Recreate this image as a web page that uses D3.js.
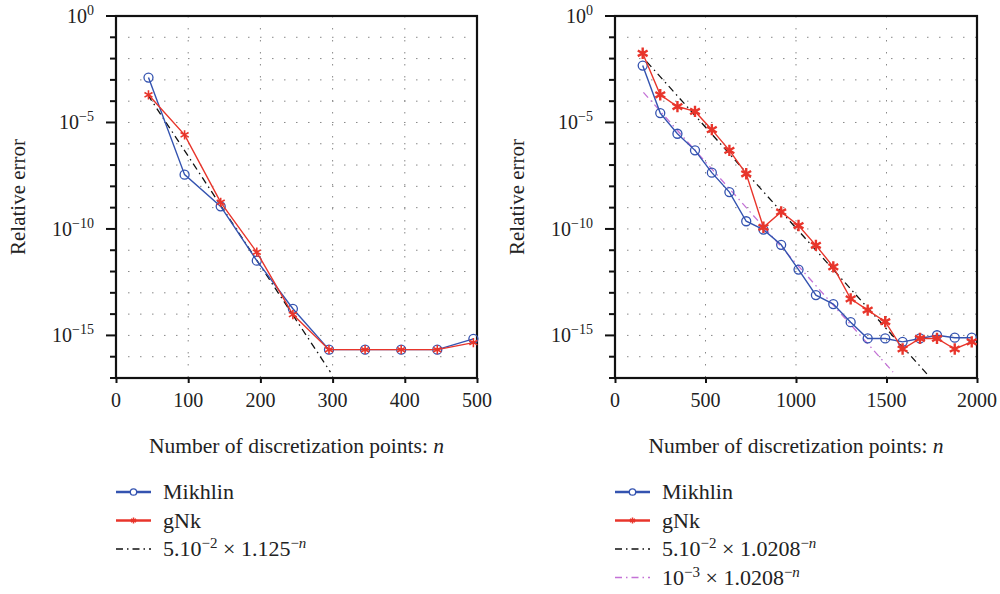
<!DOCTYPE html>
<meta charset="utf-8">
<html>
<head>
<style>
  body { margin: 0; background: #fff; }
  svg text { font-family: "Liberation Serif", "DejaVu Serif", serif; fill: #222; }
  .grid { stroke: #888; stroke-width: 1; stroke-dasharray: 1.5,10.5; fill: none; }
  .frame { stroke: #111; stroke-width: 2.2; fill: none; }
</style>
<script src="https://d3js.org/d3.v7.min.js"></script>
</head>
<body>
<div id="chart"></div>
<script>
// ---- data ----
var nLeft = [45, 95, 145, 195, 245, 295, 345, 395, 445, 495];
var mikhlinLeft = [1.29e-3, 3.55e-8, 1.15e-9, 3.24e-12, 1.78e-14, 2.14e-16, 2.14e-16, 2.14e-16, 2.14e-16, 6.9e-16];
var gnkLeft = [2.0e-4, 2.63e-6, 1.78e-9, 8.1e-12, 9.5e-15, 2.14e-16, 2.14e-16, 2.14e-16, 2.14e-16, 4.6e-16];
var fitLeftN = [44, 297];
var fitLeftV = [2.0e-4, 1.9e-17];

var nRight = [153, 250, 345, 442, 535, 632, 725, 820, 918, 1014, 1110, 1206, 1302, 1396, 1493, 1589, 1685, 1779, 1877, 1971];
var mikhlinRight = [4.7e-3, 2.75e-5, 2.95e-6, 4.9e-7, 4.4e-8, 5.4e-9, 2.3e-10, 9.3e-11, 1.8e-11, 1.23e-12, 7.8e-14, 2.95e-14, 4.2e-15, 7.2e-16, 7.2e-16, 5.0e-16, 7.2e-16, 1.02e-15, 7.8e-16, 7.8e-16];
var gnkRight = [1.78e-2, 2.0e-4, 5.6e-5, 3.3e-5, 4.6e-6, 4.9e-7, 3.9e-8, 1.2e-10, 6.3e-10, 1.45e-10, 1.7e-11, 1.66e-12, 5.2e-14, 1.55e-14, 4.4e-15, 2.3e-16, 7.2e-16, 7.2e-16, 2.3e-16, 5.0e-16];
var fitRightN = [175, 1733];
var fitRightV = [7.2e-3, 1.26e-17];
var fit2RightN = [157, 1536];
var fit2RightV = [2.6e-4, 1.9e-17];

var xTicksLeft = [0, 100, 200, 300, 400, 500];
var xTicksRight = [0, 500, 1000, 1500, 2000];
var yDecades = d3.range(0, -18, -1);   // exponents 0 .. -17
var yLabelExps = [0, -5, -10, -15];

var blue = "#3453b0", red = "#e8352b", magenta = "#c472d6";

var svg = d3.select("#chart").append("svg")
  .attr("width", 1000).attr("height", 594);

var y = d3.scaleLog().domain([1e-17, 1]).range([378, 16]);

function sup(sel, base, exp) {
  sel.append("tspan").text(base);
  sel.append("tspan").attr("dy", -8).style("font-size", "14px").text(exp);
  return sel;
}

function panel(opts) {
  var x = d3.scaleLinear().domain(opts.xdom).range(opts.xrange);
  var g = svg.append("g");
  var x0 = opts.xrange[0], x1 = opts.xrange[1];

  // grid
  yDecades.filter(function(e) { return e < 0 && e > -17; }).forEach(function(e) {
    g.append("line").attr("class", "grid")
      .attr("x1", x0 + 12).attr("x2", x1).attr("y1", y(Math.pow(10, e))).attr("y2", y(Math.pow(10, e)));
  });
  opts.xticks.slice(1, -1).forEach(function(t) {
    g.append("line").attr("class", "grid")
      .attr("x1", x(t)).attr("x2", x(t)).attr("y1", 16).attr("y2", 378);
  });

  // axes
  g.append("rect").attr("class", "frame")
    .attr("x", x0).attr("y", 16).attr("width", x1 - x0).attr("height", 362);

  g.append("g").attr("transform", "translate(0,378)")
    .call(d3.axisBottom(x).tickValues(opts.xticks).tickSize(5).tickFormat(""))
    .call(function(a) { a.select(".domain").remove(); a.selectAll("line").attr("stroke", "#111").attr("stroke-width", 2); });

  g.selectAll(".xl").data(opts.xticks).enter().append("text")
    .attr("x", function(d) { return x(d); }).attr("y", 407)
    .attr("text-anchor", "middle").style("font-size", "20px")
    .text(function(d) { return d; });

  yDecades.forEach(function(e) {
    var major = yLabelExps.indexOf(e) >= 0;
    g.append("line").attr("stroke", "#111").attr("stroke-width", 2)
      .attr("x1", x0 - (major ? 10 : 6)).attr("x2", x0)
      .attr("y1", y(Math.pow(10, e))).attr("y2", y(Math.pow(10, e)));
  });
  yLabelExps.forEach(function(e) {
    var t = g.append("text").attr("x", x0 - 22).attr("y", y(Math.pow(10, e)) + 7)
      .attr("text-anchor", "end").style("font-size", "20px");
    sup(t, "10", e === 0 ? "0" : "\u2212" + (-e));
  });

  g.append("text")
    .attr("transform", "translate(" + (x0 - 91) + ",197) rotate(-90)")
    .attr("text-anchor", "middle").style("font-size", "21px").text("Relative error");

  var xt = g.append("text").attr("x", (x0 + x1) / 2 + 0).attr("y", 453)
    .attr("text-anchor", "middle").style("font-size", "21.5px");
  xt.append("tspan").text("Number of discretization points: ");
  xt.append("tspan").style("font-style", "italic").text("n");

  var line = d3.line().x(function(d) { return x(d[0]); }).y(function(d) { return y(d[1]); });

  // fit lines
  opts.fits.forEach(function(f) {
    g.append("path").datum(d3.zip(f.n, f.v)).attr("d", line)
      .attr("fill", "none").attr("stroke", f.color).attr("stroke-width", 1.3)
      .attr("stroke-dasharray", "7,4,1.5,4");
  });

  // Mikhlin
  var mk = d3.zip(opts.n, opts.mikhlin);
  g.append("path").datum(mk).attr("d", line)
    .attr("fill", "none").attr("stroke", blue).attr("stroke-width", 1.4);
  g.selectAll(".mk").data(mk).enter().append("circle")
    .attr("cx", function(d) { return x(d[0]); }).attr("cy", function(d) { return y(d[1]); })
    .attr("r", 4.5).attr("fill", "none").attr("stroke", blue).attr("stroke-width", 1.3);

  // gNk
  var gk = d3.zip(opts.n, opts.gnk);
  g.append("path").datum(gk).attr("d", line)
    .attr("fill", "none").attr("stroke", red).attr("stroke-width", 1.4);
  var star = d3.symbol().type(d3.symbolAsterisk).size(opts.starSize);
  g.selectAll(".gk").data(gk).enter().append("path")
    .attr("transform", function(d) { return "translate(" + x(d[0]) + "," + y(d[1]) + ")"; })
    .attr("d", star).attr("fill", "none").attr("stroke", red).attr("stroke-width", opts.starWidth);

  // legend
  var lx = x0, tx = x0 + 47;
  opts.legend.forEach(function(item, i) {
    var ly = 492 + i * 28.5;
    var ln = g.append("line").attr("x1", lx).attr("x2", lx + 35).attr("y1", ly).attr("y2", ly)
      .attr("stroke", item.color).attr("stroke-width", item.kind === "fit" ? 1.5 : 2.6);
    if (item.kind === "fit") ln.attr("stroke-dasharray", "7,4,1.5,4");
    if (item.kind === "mk") g.append("circle").attr("cx", lx + 17.5).attr("cy", ly).attr("r", 3.2)
      .attr("fill", "#fff").attr("stroke", item.color).attr("stroke-width", 1.3);
    if (item.kind === "gk") g.append("path").attr("transform", "translate(" + (lx + 17.5) + "," + ly + ")")
      .attr("d", d3.symbol().type(d3.symbolAsterisk).size(25)).attr("stroke", item.color).attr("stroke-width", 1.5);
    var t = g.append("text").attr("x", tx).attr("y", ly + 7).style("font-size", "22px");
    item.text(t);
  });
}

function fitText(coef, coefExp, base) {
  return function(t) {
    if (coef) t.append("tspan").text(coef);
    t.append("tspan").text("10");
    t.append("tspan").attr("dy", -8).style("font-size", "15px").text("\u2212" + coefExp);
    t.append("tspan").attr("dy", 8).text(" \u00d7 " + base);
    t.append("tspan").attr("dy", -8).style("font-size", "15px").text("\u2212");
    t.append("tspan").style("font-size", "15px").style("font-style", "italic").text("n");
  };
}

panel({
  xdom: [0, 500], xrange: [116, 477], xticks: xTicksLeft,
  n: nLeft, mikhlin: mikhlinLeft, gnk: gnkLeft, starSize: 60, starWidth: 1.6,
  fits: [{ n: fitLeftN, v: fitLeftV, color: "#111" }],
  legend: [
    { kind: "mk", color: blue, text: function(t) { t.text("Mikhlin"); } },
    { kind: "gk", color: red, text: function(t) { t.text("gNk"); } },
    { kind: "fit", color: "#111", text: fitText("5.", 2, "1.125") }
  ]
});

panel({
  xdom: [0, 2000], xrange: [615, 977], xticks: xTicksRight,
  n: nRight, mikhlin: mikhlinRight, gnk: gnkRight, starSize: 90, starWidth: 2.4,
  fits: [{ n: fitRightN, v: fitRightV, color: "#111" }, { n: fit2RightN, v: fit2RightV, color: magenta }],
  legend: [
    { kind: "mk", color: blue, text: function(t) { t.text("Mikhlin"); } },
    { kind: "gk", color: red, text: function(t) { t.text("gNk"); } },
    { kind: "fit", color: "#111", text: fitText("5.", 2, "1.0208") },
    { kind: "fit", color: magenta, text: fitText("", 3, "1.0208") }
  ]
});
</script>
</body>
</html>
